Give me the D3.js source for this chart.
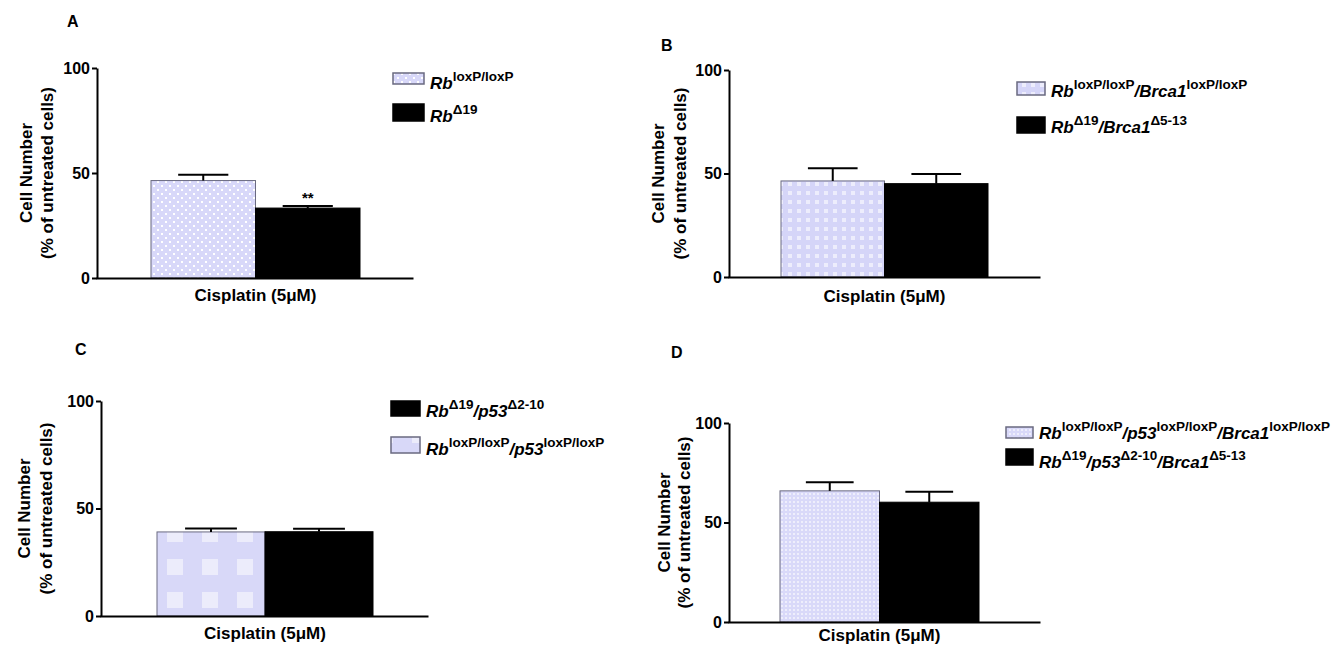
<!DOCTYPE html>
<html>
<head>
<meta charset="utf-8">
<script src="https://cdn.jsdelivr.net/npm/d3@7"></script>
<style>
    body { margin: 0; background: #fff; }
    svg { display: block; font-family: "Liberation Sans", Arial, sans-serif; }
</style>
</head>
<body>
<svg id="chart" width="1337" height="647"></svg>
<script>
// Values (mean and SEM, % of untreated cells)
const yTicks = [0, 50, 100];
const groupLabel = 'Cisplatin (5\u03bcM)';
const yTitle = ['Cell Number', '(% of untreated cells)'];

const meansA = [46.4, 33.3];
const semA = [2.8, 1.0];
const sigA = ['', '**'];

const meansB = [46.4, 45.1];
const semB = [6.1, 4.7];
const sigB = ['', ''];

const meansC = [39.1, 39.2];
const semC = [1.6, 1.4];
const sigC = ['', ''];

const meansD = [65.9, 60.2];
const semD = [4.3, 5.2];
const sigD = ['', ''];

// legend labels: [text, 'i' = italic main, 's' = superscript]
const legendA = [
    [['Rb', 'i'], ['loxP/loxP', 's']],
    [['Rb', 'i'], ['\u039419', 's']]
];
const legendB = [
    [['Rb', 'i'], ['loxP/loxP', 's'], ['/Brca1', 'i'], ['loxP/loxP', 's']],
    [['Rb', 'i'], ['\u039419', 's'], ['/Brca1', 'i'], ['\u03945-13', 's']]
];
const legendC = [
    [['Rb', 'i'], ['loxP/loxP', 's'], ['/p53', 'i'], ['loxP/loxP', 's']],
    [['Rb', 'i'], ['\u039419', 's'], ['/p53', 'i'], ['\u03942-10', 's']]
];
const legendD = [
    [['Rb', 'i'], ['loxP/loxP', 's'], ['/p53', 'i'], ['loxP/loxP', 's'], ['/Brca1', 'i'], ['loxP/loxP', 's']],
    [['Rb', 'i'], ['\u039419', 's'], ['/p53', 'i'], ['\u03942-10', 's'], ['/Brca1', 'i'], ['\u03945-13', 's']]
];

const svg = d3.select('#chart');
svg.append('rect').attr('width', 1337).attr('height', 647).attr('fill', '#fff');

// Fill patterns for the floxed (control) bars
const defs = svg.append('defs');

function addPattern(id, x, y, w, h, bg, fg, cells) {
    const pat = defs.append('pattern')
        .attr('id', id)
        .attr('patternUnits', 'userSpaceOnUse')
        .attr('x', x).attr('y', y)
        .attr('width', w).attr('height', h);
    pat.append('rect').attr('width', w).attr('height', h).attr('fill', bg);
    cells.forEach(c => {
        pat.append('rect')
            .attr('x', c[0]).attr('y', c[1])
            .attr('width', c[2]).attr('height', c[3])
            .attr('fill', fg);
    });
}

addPattern('patA', 0, 0, 8, 8, '#d8d8f9', '#ffffff', [[1, 1, 2, 2], [5, 5, 2, 2]]);
addPattern('patB', 3, 0, 9, 9, '#d5d5f8', '#ededfc', [[2, 2, 4, 4]]);
addPattern('patC', 167, 559, 35, 33, '#d8d8f8', '#ececfb', [[0, 0, 16, 16]]);
addPattern('patD', 0, 0, 4, 4, '#d9d9f9', '#eeeefc', [[1, 1, 2, 2]]);

const panels = [
    { letter: 'A', lx: 67, ly: 27, means: meansA, sem: semA, sig: sigA, fill: 'patA',
      axisX: 97, yTop: 68, yBottom: 278, barStart: 151, barEnd: 360, axisEnd: 413, titleX: [32, 53], labelDy: 23,
      legend: legendA, legendOrder: [0, 1], legX: 393, textX: 430,
      swatches: [[73, 11], [104, 17]], baselines: [89, 122] },
    { letter: 'B', lx: 661, ly: 51, means: meansB, sem: semB, sig: sigB, fill: 'patB',
      axisX: 729, yTop: 70, yBottom: 277, barStart: 781, barEnd: 988, axisEnd: 1040, titleX: [664, 686], labelDy: 25,
      legend: legendB, legendOrder: [0, 1], legX: 1017, textX: 1051,
      swatches: [[82, 13], [117, 16]], baselines: [97, 133] },
    { letter: 'C', lx: 75, ly: 355, means: meansC, sem: semC, sig: sigC, fill: 'patC',
      axisX: 101, yTop: 401, yBottom: 616, barStart: 157, barEnd: 373, axisEnd: 428, titleX: [30, 52], labelDy: 23,
      legend: legendC, legendOrder: [1, 0], legX: 391, textX: 426,
      swatches: [[401, 15], [437, 16]], baselines: [417, 455] },
    { letter: 'D', lx: 671, ly: 358, means: meansD, sem: semD, sig: sigD, fill: 'patD',
      axisX: 729, yTop: 423, yBottom: 622, barStart: 780, barEnd: 979, axisEnd: 1040, titleX: [670, 690], labelDy: 19,
      legend: legendD, legendOrder: [0, 1], legX: 1006, textX: 1039,
      swatches: [[427, 11], [449, 16]], baselines: [439, 468] }
];

function barFill(p, i) {
    return i === 0 ? `url(#${p.fill})` : '#000';
}

function drawPanel(p) {
    const g = svg.append('g');

    const y = d3.scaleLinear().domain([0, 100]).range([p.yBottom, p.yTop]);
    const x = d3.scaleBand().domain([0, 1]).range([p.barStart, p.barEnd]).padding(0);

    // panel letter
    g.append('text')
        .attr('x', p.lx).attr('y', p.ly)
        .attr('font-size', 16).attr('font-weight', 'bold')
        .text(p.letter);

    // bars
    g.selectAll('rect.bar')
        .data(p.means)
        .enter()
        .append('rect')
        .attr('class', 'bar')
        .attr('x', (d, i) => x(i))
        .attr('y', d => y(d))
        .attr('width', x.bandwidth())
        .attr('height', d => y(0) - y(d))
        .attr('fill', (d, i) => barFill(p, i))
        .attr('stroke', (d, i) => i === 0 ? '#6a6a80' : '#000')
        .attr('stroke-width', 1);

    // error bars (upper only)
    const capW = x.bandwidth() * 0.48;
    p.means.forEach((m, i) => {
        const cx = x(i) + x.bandwidth() / 2;
        g.append('line')
            .attr('x1', cx).attr('x2', cx)
            .attr('y1', y(m)).attr('y2', y(m + p.sem[i]))
            .attr('stroke', '#000').attr('stroke-width', 2);
        g.append('line')
            .attr('x1', cx - capW / 2).attr('x2', cx + capW / 2)
            .attr('y1', y(m + p.sem[i])).attr('y2', y(m + p.sem[i]))
            .attr('stroke', '#000').attr('stroke-width', 2);
        if (p.sig[i]) {
            g.append('text')
                .attr('x', cx).attr('y', y(m + p.sem[i]) - 3)
                .attr('text-anchor', 'middle')
                .attr('font-size', 15).attr('font-weight', 'bold')
                .text(p.sig[i]);
        }
    });

    // y axis
    const yAxis = g.append('g')
        .attr('transform', `translate(${p.axisX},0)`)
        .call(d3.axisLeft(y).tickValues(yTicks).tickSize(5).tickSizeOuter(0).tickPadding(2));
    yAxis.select('.domain').attr('stroke-width', 2);
    yAxis.selectAll('.tick line').attr('stroke-width', 2);
    yAxis.selectAll('.tick text')
        .attr('font-size', 16).attr('font-weight', 'bold')
        .attr('font-family', '"Liberation Sans", Arial, sans-serif')
        .attr('fill', '#000');

    // x axis (baseline only)
    const xAxis = g.append('g')
        .attr('transform', `translate(0,${p.yBottom})`)
        .call(d3.axisBottom(d3.scaleLinear().range([p.axisX - 1, p.axisEnd])).ticks(0).tickSizeOuter(0));
    xAxis.select('.domain').attr('stroke-width', 2);

    // group label
    g.append('text')
        .attr('x', (p.barStart + p.barEnd) / 2)
        .attr('y', p.yBottom + p.labelDy)
        .attr('text-anchor', 'middle')
        .attr('font-size', 17).attr('font-weight', 'bold')
        .text(groupLabel);

    // y axis title
    const yc = (p.yTop + p.yBottom) / 2;
    yTitle.forEach((t, k) => {
        g.append('text')
            .attr('transform', `translate(${p.titleX[k]},${yc}) rotate(-90)`)
            .attr('text-anchor', 'middle')
            .attr('font-size', 17).attr('font-weight', 'bold')
            .text(t);
    });

    // legend
    p.legendOrder.forEach((si, row) => {
        const [sy, sh] = p.swatches[row];
        g.append('rect')
            .attr('x', p.legX).attr('y', sy)
            .attr('width', p.textX - p.legX - 6).attr('height', sh)
            .attr('fill', barFill(p, si))
            .attr('stroke', si === 0 ? '#6a6a80' : '#000')
            .attr('stroke-width', 1.5);

        const txt = g.append('text')
            .attr('x', p.textX).attr('y', p.baselines[row])
            .attr('font-weight', 'bold');
        let raised = false;
        p.legend[si].forEach(([t, kind]) => {
            const span = txt.append('tspan').text(t);
            if (kind === 's') {
                span.attr('font-size', 13.5).attr('dy', raised ? 0 : -8);
                raised = true;
            } else {
                span.attr('font-size', 17).attr('font-style', 'italic').attr('dy', raised ? 8 : 0);
                raised = false;
            }
        });
    });
}

panels.forEach(drawPanel);
</script>
</body>
</html>
